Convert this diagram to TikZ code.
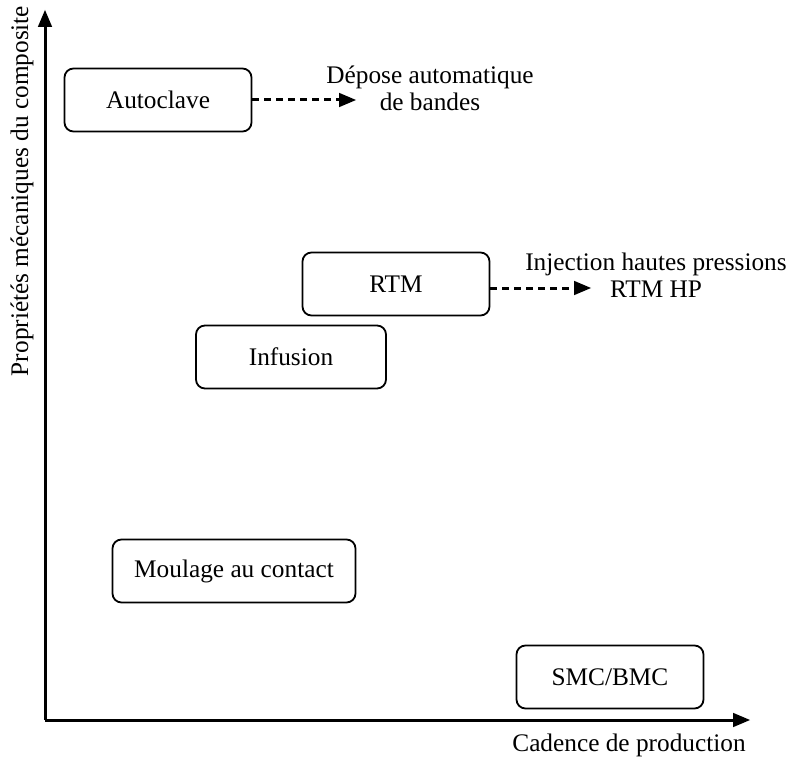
\documentclass[tikz,border=0pt]{standalone}
\usepackage{fontspec}
\setmainfont{Liberation Serif}
\usetikzlibrary{shapes,arrows,calc,backgrounds}

\begin{document}
\begin{tikzpicture}[x=1pt,y=-1pt]

\tikzstyle{procede} = [draw=black, line width=1.8, rounded corners=9,
    minimum width=187, minimum height=63, inner sep=0,
    font=\fontsize{25.3}{27}\selectfont]
\tikzstyle{label} = [align=center, inner sep=0,
    font=\fontsize{25.3}{27}\selectfont]
\tikzstyle{axe} = [line width=3, -triangle 45]
\tikzstyle{suite} = [line width=3, dash pattern=on 7 off 5, -triangle 45]

\useasboundingbox (0,0) rectangle (796,757);

% =========================
% axes
% =========================
\coordinate (origine) at (45,720);
\coordinate (ymax) at (45,10);
\coordinate (xmax) at (750,720);
\draw[axe] (origine) -- (ymax);
\draw[axe] (origine) -- (xmax);
\node[label, rotate=90] (ylabel) at (22,191) {Propriétés mécaniques du composite};
\node[label] (xlabel) at (629,745) {Cadence de production};

% =========================
% procedes
% =========================
\node[procede] (autoclave) at (158,100) {Autoclave};
\node[procede] (rtm) at (396,284) {RTM};
\node[procede, minimum width=190] (infusion) at (291,357) {Infusion};
\node[procede, minimum width=243] (moulage) at (234,571) {Moulage au contact};
\node[procede] (smc) at (610,677) {SMC/BMC};

% =========================
% evolutions
% =========================
\node[label] (depose) at (430,88) {Dépose automatique\\de bandes};
\coordinate (finautoclave) at (356,100);
\draw[suite] (autoclave.east) -- (finautoclave);

\node[label] (rtmhp) at (656,275) {Injection hautes pressions\\RTM HP};
\coordinate (finrtm) at (591,288);
\draw[suite] (rtm.east |- finrtm) -- (finrtm);

\end{tikzpicture}
\end{document}
